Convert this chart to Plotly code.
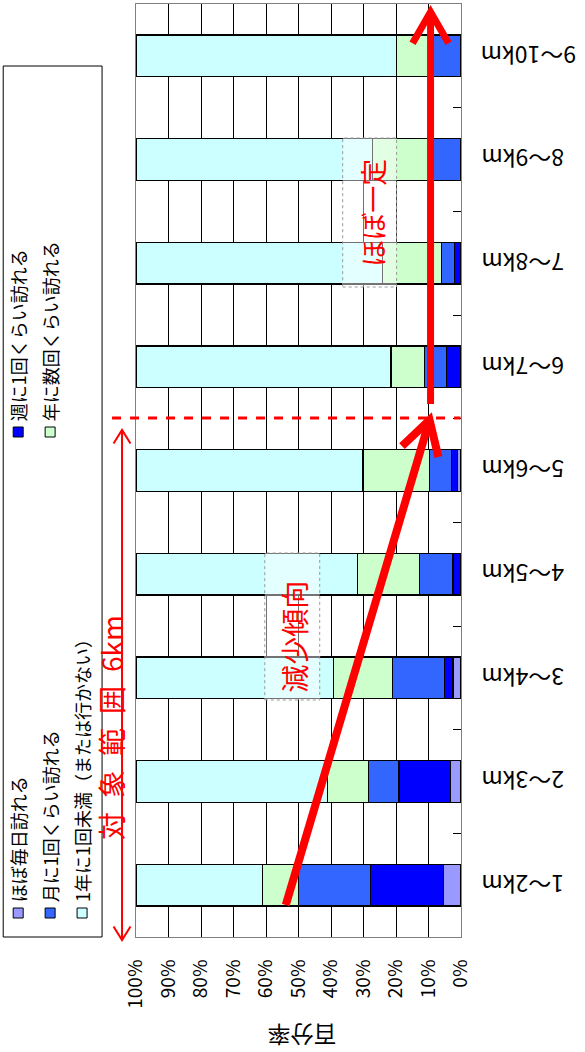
import math
import plotly.graph_objects as go

categories = ["1～2km", "2～3km", "3～4km", "4～5km", "5～6km",
              "6～7km", "7～8km", "8～9km", "9～10km"]
daily = [5.3, 3.3, 2.5, 0.0, 1.0, 0.0, 0.0, 0.0, 0.0]
weekly = [22.6, 15.8, 2.5, 2.5, 2.0, 4.4, 2.0, 0.0, 0.0]
monthly = [22.0, 9.3, 16.0, 10.2, 6.7, 6.9, 4.1, 8.4, 9.7]
yearly = [11.1, 12.7, 18.2, 19.1, 20.5, 10.2, 18.0, 18.8, 10.2]
rarely = [39.0, 58.9, 60.8, 68.2, 69.8, 78.5, 75.9, 72.8, 80.1]

series_names = ["ほぼ毎日訪れる", "週に1回くらい訪れる", "月に1回くらい訪れる",
                "年に数回くらい訪れる", "1年に1回未満（または行かない）"]
series_values = [daily, weekly, monthly, yearly, rarely]
series_colors = ["#9999FF", "#0000FF", "#3366FF", "#CCFFCC", "#CCFFFF"]

pct_ticks = list(range(0, 101, 10))
pct_labels = [f"{v}%" for v in pct_ticks]

JP = "Noto Sans CJK JP"

fig = go.Figure()
for name, vals, col in zip(series_names, series_values, series_colors):
    fig.add_trace(go.Bar(
        y=categories, x=vals, orientation="h", name=name,
        marker=dict(color=col, line=dict(color="#000000", width=1.3)),
    ))

# plot area in pixels
L, R, T, B = 136, 461.5, 4, 937
W, H = 585, 1052


def P(px, py):
    return (px - L) / (R - L), (B - py) / (B - T)


shapes = []
annotations = []


def seg_path(points):
    pts = [P(*p) for p in points]
    return "M " + " L ".join(f"{x:.5f},{y:.5f}" for x, y in pts)


def arrow(x0, y0, x1, y1, width, head_len, head_ang, both=False):
    shapes.append(dict(type="path", xref="paper", yref="paper",
                       path=seg_path([(x0, y0), (x1, y1)]),
                       line=dict(color="#FF0000", width=width), layer="above"))
    ends = [((x1, y1), (x0, y0))]
    if both:
        ends.append(((x0, y0), (x1, y1)))
    for tip, frm in ends:
        dx, dy = frm[0] - tip[0], frm[1] - tip[1]
        n = math.hypot(dx, dy)
        bx, by = dx / n, dy / n
        a = math.radians(head_ang)
        p1 = (tip[0] + head_len * (bx * math.cos(a) - by * math.sin(a)),
              tip[1] + head_len * (bx * math.sin(a) + by * math.cos(a)))
        p2 = (tip[0] + head_len * (bx * math.cos(a) + by * math.sin(a)),
              tip[1] + head_len * (-bx * math.sin(a) + by * math.cos(a)))
        shapes.append(dict(type="path", xref="paper", yref="paper",
                           path=seg_path([p1, tip, p2]),
                           line=dict(color="#FF0000", width=width), layer="above"))


# text boxes (semi transparent)
for (x0, y0, x1, y1) in [(265, 553, 320, 700), (343, 138, 397, 287)]:
    a0 = P(x0, y1)
    a1 = P(x1, y0)
    shapes.append(dict(type="rect", xref="paper", yref="paper",
                       x0=a0[0], y0=a0[1], x1=a1[0], y1=a1[1],
                       fillcolor="rgba(255,255,255,0.45)",
                       line=dict(color="#999999", width=1, dash="dot"), layer="above"))

# dashed separator
d0, d1 = P(112, 418), P(461, 418)
shapes.append(dict(type="line", xref="paper", yref="paper", x0=d0[0], y0=d0[1],
                   x1=d1[0], y1=d1[1], line=dict(color="#FF0000", width=3, dash="dash"),
                   layer="above"))

arrow(286, 905, 430, 420, 8, 38, 30)
arrow(431, 404, 431, 12, 7, 36, 30)
arrow(122, 940, 122, 430, 2, 16, 32, both=True)

# red texts
for txt, (px, py), size in [("減少傾向", (294, 637), 28), ("ほぼ一定", (372, 213), 27),
                            ("対\u2002象\u2002範\u2002囲\u20026km", (111, 728), 28)]:
    x, y = P(px, py)
    annotations.append(dict(text=txt, x=x, y=y, xref="paper", yref="paper",
                            xanchor="center", yanchor="middle",
                            showarrow=False, textangle=-90,
                            font=dict(family=JP, size=size, color="#FF0000")))

# category labels (upside down, right of the plot)
xl, _ = P(479, 0)
for c in categories:
    annotations.append(dict(text=c, x=xl, y=c, xref="paper", yref="y",
                            showarrow=False, textangle=180, xanchor="left", yanchor="middle",
                            font=dict(family=JP, size=23, color="#000000")))

# axis title
x, y = P(302, 1036)
annotations.append(dict(text="百分率", x=x, y=y, xref="paper", yref="paper",
                        xanchor="center", yanchor="middle",
                        showarrow=False, textangle=180,
                        font=dict(family=JP, size=23, color="#000000")))

# legend box
l0, l1 = P(3, 937), P(102, 66)
shapes.append(dict(type="rect", xref="paper", yref="paper", x0=l0[0], y0=l0[1],
                   x1=l1[0], y1=l1[1], line=dict(color="#000000", width=1),
                   fillcolor="white", layer="above"))
legend_pos = [(18, 913), (18, 432), (50, 913), (50, 432), (82, 913)]
for i, (px, py) in enumerate(legend_pos):
    s0, s1 = P(px - 5, py + 5), P(px + 5, py - 5)
    shapes.append(dict(type="rect", xref="paper", yref="paper", x0=s0[0], y0=s0[1],
                       x1=s1[0], y1=s1[1], line=dict(color="#000000", width=1),
                       fillcolor=series_colors[i], layer="above"))
    tx, ty = P(px, py - 9)
    annotations.append(dict(text=series_names[i], x=tx, y=ty, xref="paper", yref="paper",
                            showarrow=False, textangle=-90, xanchor="center", yanchor="bottom",
                            font=dict(family=JP, size=18, color="#000000")))

fig.update_layout(
    width=W, height=H,
    margin=dict(l=L, r=W - R, t=T, b=H - B, pad=0, autoexpand=False),
    barmode="stack", bargap=0.6,
    plot_bgcolor="white", paper_bgcolor="white",
    showlegend=False,
    font=dict(family=JP, color="#000000"),
    xaxis=dict(range=[100, 0], tickvals=pct_ticks, ticktext=pct_labels, tickangle=-90,
               showgrid=True, gridcolor="#000000", gridwidth=1,
               showline=True, linecolor="#808080", linewidth=1, mirror=True,
               zeroline=False, ticks="", ticklabelstandoff=14, automargin=False,
               tickfont=dict(family=JP, size=19, color="#000000")),
    yaxis=dict(type="category", categoryorder="array", categoryarray=categories,
               range=[-0.5, 8.5], side="right", showticklabels=False, automargin=False,
               ticks="inside", ticklen=8, tickcolor="#000000", tickson="boundaries",
               showgrid=False, showline=True, linecolor="#808080", linewidth=1, mirror=True),
    shapes=shapes, annotations=annotations,
)

fig.write_html("out.html", config={"displayModeBar": False},
               post_script="document.body.style.margin='0';document.body.style.overflow='hidden';")
